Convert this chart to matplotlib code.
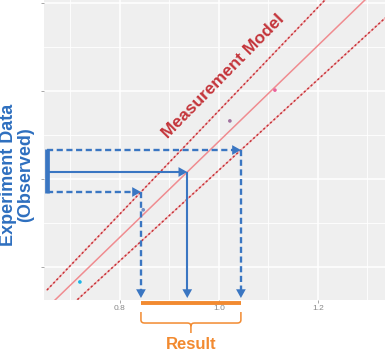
import numpy as np
import matplotlib.pyplot as plt
from matplotlib.path import Path
from matplotlib.patches import PathPatch

plt.rcParams['font.family'] = ['Liberation Sans', 'DejaVu Sans']

# Calibration points (reference samples)
point_x = [0.719, 0.847, 1.022, 1.113]
point_y = [0.566, 0.730, 0.932, 1.002]
point_colors = ['#1ab4e6', '#7290c6', '#a2729e', '#e9629c']

# Measurement model y = a + b*x and its prediction band
model_fit = [-0.2033, 1.089]
model_upper = [-0.2181, 1.1736]
model_lower = [-0.2091, 1.0294]
line_x = [0.6525, 1.34]

# Observed reading: low, mean, high
obs_low, obs_mid, obs_high = 0.7705, 0.8159, 0.8659

x_ticks = [0.8, 1.0, 1.2]
x_minor = [0.7, 0.9, 1.1, 1.3]
y_ticks = [0.6, 0.8, 1.0, 1.2]
y_minor = [0.7, 0.9, 1.1]

BLUE = '#3a76c2'
ORANGE = '#f28a30'
RED = '#c4343a'


def inv(model, y):
    return (y - model[0]) / model[1]


def line(model, x):
    x = np.asarray(x)
    return model[0] + model[1] * x


fig = plt.figure(figsize=(3.85, 3.51), dpi=100)
ax = fig.add_axes([44 / 385, 51 / 351, 1 - 44 / 385, 300 / 351])
ax.set_xlim(0.6465, 1.3354)
ax.set_ylim(0.525, 1.2068)
ax.set_facecolor('#efefef')
for s in ax.spines.values():
    s.set_visible(False)

for v in x_ticks:
    ax.axvline(v, color='white', lw=1.1, zorder=0)
for v in x_minor:
    ax.axvline(v, color='white', lw=0.6, zorder=0)
for v in y_ticks:
    ax.axhline(v, color='white', lw=1.1, zorder=0)
for v in y_minor:
    ax.axhline(v, color='white', lw=0.6, zorder=0)

ax.set_xticks(x_ticks)
ax.set_xticklabels(['%.1f' % v for v in x_ticks])
ax.set_yticks(y_ticks)
ax.set_yticklabels([])
ax.tick_params(colors='#999999', labelcolor='#888888', labelsize=6,
               length=2, width=0.6, pad=1.5)

# model lines
ax.plot(line_x, line(model_fit, line_x), color='#f08c90', lw=1.1, zorder=2)
for m in (model_upper, model_lower):
    ax.plot(line_x, line(m, line_x), color='#f4b0b2', lw=1.0, zorder=2)
    ax.plot(line_x, line(m, line_x), color=RED, lw=1.1,
            linestyle=(0, (1.4, 1.6)), zorder=2)

ax.scatter(point_x, point_y, c=point_colors, s=7, zorder=3, linewidths=0)

# observed reading -> result
x_start = line_x[0]
y_bottom = 0.5295
x_low = inv(model_upper, obs_low)
x_mid = inv(model_fit, obs_mid)
x_high = inv(model_lower, obs_high)

ax.plot([x_start, x_start], [obs_low - 0.002, obs_high + 0.002], color=BLUE,
        lw=3.4, solid_capstyle='butt', zorder=5, clip_on=False)


def head(x, y, dx, dy):
    ax.annotate('', xy=(x, y), xytext=(dx, dy), textcoords='offset points',
                xycoords='data',
                arrowprops=dict(arrowstyle='-|>,head_length=0.45,head_width=0.25',
                                color=BLUE, lw=0, shrinkA=0, shrinkB=0,
                                mutation_scale=14), zorder=6,
                annotation_clip=False)


dash = (0, (2.6, 1.5))
for xe, ye, ls, lw in [(x_low, obs_low, dash, 1.7),
                       (x_mid, obs_mid, '-', 1.5),
                       (x_high, obs_high, dash, 1.7)]:
    ax.plot([x_start, xe - 0.008], [ye, ye], color=BLUE, lw=lw, linestyle=ls,
            zorder=5, solid_capstyle='butt', dash_capstyle='butt')
    head(xe, ye, -6, 0)
    ax.plot([xe, xe], [ye, y_bottom + 0.012], color=BLUE, lw=lw, linestyle=ls,
            zorder=5, solid_capstyle='butt', dash_capstyle='butt')
    head(xe, y_bottom, 0, 6)

# result bar and brace
ax.plot([x_low, x_high], [0.518, 0.518], color=ORANGE, lw=2.8,
        solid_capstyle='butt', clip_on=False, zorder=5)

y_top, y_mid, y_tip = 0.4977, 0.4727, 0.450
xc = (x_low + x_high) / 2
rx, ry = 0.007, 0.007
verts = [(x_low, y_top), (x_low, y_mid + ry), (x_low, y_mid), (x_low + rx, y_mid),
         (xc - rx, y_mid), (xc, y_mid), (xc, y_mid - ry), (xc, y_tip),
         (xc, y_mid - ry), (xc, y_mid), (xc + rx, y_mid),
         (x_high - rx, y_mid), (x_high, y_mid), (x_high, y_mid + ry), (x_high, y_top)]
codes = [Path.MOVETO, Path.LINETO, Path.CURVE3, Path.CURVE3,
         Path.LINETO, Path.CURVE3, Path.CURVE3, Path.LINETO,
         Path.MOVETO, Path.CURVE3, Path.CURVE3,
         Path.LINETO, Path.CURVE3, Path.CURVE3, Path.LINETO]
ax.add_patch(PathPatch(Path(verts, codes), fill=False, edgecolor=ORANGE,
                       lw=1.1, clip_on=False, zorder=5))

ax.text(xc, 0.425, 'Result', color=ORANGE, fontsize=12, fontweight='bold',
        ha='center', va='center', clip_on=False)

fig.text(17 / 385, 1 - 175 / 351, 'Experiment Data\n(Observed)', color='#2e6fbf',
         fontsize=13, fontweight='bold', rotation=90, ha='center', va='center',
         linespacing=1.0, multialignment='center')

ax.text(0.8 + (223 - 120) / 495, 0.6 + (267 - 76) / 440, 'Measurement Model',
        color=RED, fontsize=12.5, fontweight='bold', rotation=45.5,
        ha='center', va='center', rotation_mode='anchor')

fig.savefig('out.png', dpi=100)
